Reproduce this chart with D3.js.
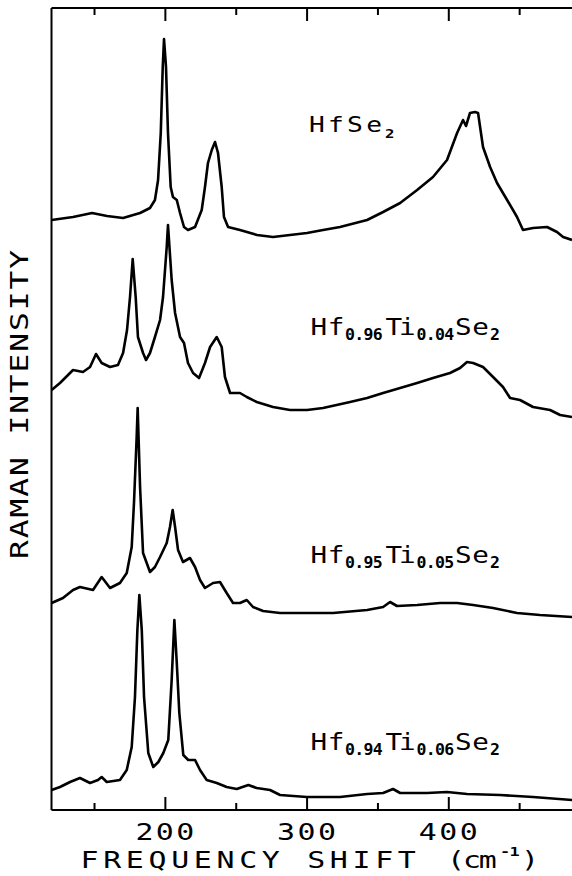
<!DOCTYPE html>
<html>
<head>
<meta charset="utf-8">
<script src="https://cdn.jsdelivr.net/npm/d3@7"></script>
<style>
  html, body { margin: 0; padding: 0; background: #fff; }
  svg { display: block; }
</style>
</head>
<body>
<script>
// ---------------- DATA ----------------
// Frequency shift in cm^-1 and Raman intensity (arb. units, curves stacked with offsets)
const freqHfSe2 = [120.1,135.2,148.6,159.2,170.5,182.5,189.5,193.0,195.2,197.1,198.5,199.4,200.8,202.2,204.1,205.7,208.4,210.7,213.5,216.3,221.3,226.0,228.3,230.4,233.1,235.4,237.5,240.1,241.7,244.6,253.0,265.0,276.3,288.3,300.3,311.6,323.6,342.7,354.0,366.0,378.0,389.2,399.1,406.2,410.4,412.5,415.3,418.8,421.0,424.5,429.5,434.4,441.5,448.5,452.7,459.8,469.7,476.7,481.0,487.3];
const intHfSe2  = [590,593,597,594,592,597,602,610,630,677,743,771,743,677,623,613,610,597,583,580,583,600,623,647,660,668,657,623,593,583,580,575,573,575,577,580,583,590,598,607,620,633,650,677,690,684,697,698,697,663,643,627,610,593,580,582,583,578,573,570];

const freqTi04 = [120.1,126.0,135.2,142.2,147.2,151.4,155.4,161.3,166.9,170.5,173.3,175.4,177.3,179.4,181.0,184.6,186.7,189.5,193.0,196.6,198.7,201.3,202.2,204.8,207.2,210.7,213.5,216.3,219.9,224.1,228.3,231.9,236.6,240.1,242.4,246.0,253.0,257.8,264.8,276.3,288.3,300.3,311.6,330.7,342.7,354.0,366.0,378.0,389.2,401.2,408.3,413.2,417.5,424.5,431.6,438.6,443.6,450.6,459.8,471.8,478.9,487.3];
const intTi04  = [420,427,440,438,443,456,447,443,445,457,480,513,551,513,473,457,450,457,473,490,513,563,585,530,497,473,467,447,437,432,447,463,473,463,433,417,417,413,408,403,400,400,402,408,412,417,422,427,432,437,442,448,447,443,433,423,412,410,403,400,395,393];

const freqTi05 = [120.1,128.1,135.2,140.1,149.3,155.4,161.3,168.3,173.1,176.6,178.2,180.1,180.8,182.5,184.6,189.5,193.0,196.6,201.3,203.6,205.5,207.2,209.3,212.8,217.7,221.3,224.8,228.3,234.0,238.9,243.6,248.1,253.0,257.8,262.2,269.3,281.3,300.3,311.6,318.7,342.7,354.0,358.9,363.8,378.0,394.2,406.2,417.5,431.6,448.5,464.7,487.3];
const intTi05  = [207,212,220,223,220,233,222,227,237,263,307,373,402,323,257,238,243,253,267,283,300,283,260,248,252,243,230,222,227,228,217,207,207,210,203,199,197,197,197,197,200,203,208,204,205,207,207,205,202,197,195,193];

const freqTi06 = [120.1,126.0,133.1,140.1,147.2,152.8,155.4,159.0,168.3,173.1,176.6,178.9,180.6,182.0,183.7,185.3,188.3,191.8,195.4,198.9,202.4,204.8,206.7,208.4,210.2,213.0,216.5,221.3,224.8,229.5,236.6,243.6,250.7,258.9,264.8,274.2,281.3,300.1,323.6,342.7,354.0,361.0,366.0,385.0,399.1,413.2,436.5,459.8,487.3];
const intTi06  = [20,23,28,32,27,30,33,28,30,40,63,113,180,215,180,113,57,43,48,57,70,130,190,147,97,55,50,50,40,30,27,23,21,25,22,20,15,13,13,16,17,21,17,17,18,16,15,13,10];

const majorTicks = [200, 300, 400];
const minorTicks = [150, 250, 350, 450];
const xTitle = "FREQUENCY SHIFT";
const xUnit = ["(cm", "-1", ")"];
const yTitle = "RAMAN INTENSITY";

// ---------------- LAYOUT ----------------
const W = 572, H = 876;
const mLeft = 51.5, mRight = 572, mTop = 8, mBottom = 810;
const FONT = "DejaVu Sans Mono";

const svg = d3.select("body").append("svg").attr("width", W).attr("height", H);

const x = d3.scaleLinear().domain([120, 400]).range([mLeft, 448.3]);
const y = d3.scaleLinear().domain([0, 802]).range([mBottom, mTop]);

// frame
svg.append("line").attr("x1", mLeft).attr("x2", mLeft).attr("y1", mTop).attr("y2", mBottom)
  .attr("stroke", "#000").attr("stroke-width", 2);
svg.append("line").attr("x1", mLeft).attr("x2", mRight).attr("y1", mTop).attr("y2", mTop)
  .attr("stroke", "#000").attr("stroke-width", 2);
svg.append("line").attr("x1", mLeft).attr("x2", mRight).attr("y1", mBottom).attr("y2", mBottom)
  .attr("stroke", "#000").attr("stroke-width", 2.2);

function tickAxis(axisGen, yPos, vals, size) {
  const g = svg.append("g").attr("transform", `translate(0,${yPos})`)
    .call(axisGen(x).tickValues(vals).tickSizeInner(size).tickSizeOuter(0).tickFormat(""));
  g.select(".domain").remove();
  g.selectAll(".tick line").attr("stroke", "#000").attr("stroke-width", 2);
  return g;
}
tickAxis(d3.axisBottom, mBottom, majorTicks, -13);
tickAxis(d3.axisBottom, mBottom, minorTicks, -7);
tickAxis(d3.axisTop, mTop, majorTicks, -13);
tickAxis(d3.axisTop, mTop, minorTicks, -7);

// stretched monospace text helper
function stext(str, tx, ty, size, sx, ls, opts = {}) {
  return svg.append("text")
    .attr("transform", `translate(${tx},${ty}) ${opts.rot ? "rotate(" + opts.rot + ")" : ""} scale(${sx},1)`)
    .attr("font-family", FONT)
    .attr("font-size", size)
    .attr("letter-spacing", ls)
    .attr("fill", "#000")
    .attr("text-anchor", opts.anchor || "start")
    .attr("font-weight", opts.bold ? "bold" : "normal")
    .text(str);
}

// tick labels
majorTicks.forEach(v => {
  stext(String(v), x(v) + 1.2, 840, 23, 1.3, 1.9, { anchor: "middle" });
});

// x title
stext(xTitle, 80.5, 868, 23, 1.3, 3.6);
stext(xUnit[0], 447, 868, 23, 1.3, -1.6);
stext(xUnit[1], 500, 856, 13, 1.3, -0.5, { bold: true });
stext(xUnit[2], 521, 868, 23, 1.3, 0);

// y title
stext(yTitle, 28, 403.5, 24, 1.3, 1.5, { rot: -90, anchor: "middle" });

// spectra
const line = d3.line().x(d => x(d[0])).y(d => y(d[1])).curve(d3.curveLinear);
const series = [
  [freqHfSe2, intHfSe2],
  [freqTi04, intTi04],
  [freqTi05, intTi05],
  [freqTi06, intTi06]
];
series.forEach(([f, v]) => {
  svg.append("path")
    .datum(f.map((fi, i) => [fi, v[i]]))
    .attr("d", line)
    .attr("fill", "none")
    .attr("stroke", "#000")
    .attr("stroke-width", 2.6)
    .attr("stroke-linejoin", "round");
});

// labels
stext("HfSe", 309, 132, 21, 1.25, 2.6);
stext("2", 385, 138, 13, 1.2, 0, { bold: true });

function tiLabel(base, s1, s2) {
  stext("Hf", 310.5, base, 23, 1.2, 0.5);
  stext(s1, 345, base + 5, 15, 1.1, -0.6, { bold: true });
  stext("Ti", 385.5, base, 23, 1.2, -2.5);
  stext(s2, 416.5, base + 5, 15, 1.1, -0.6, { bold: true });
  stext("Se", 455, base, 23, 1.2, 0.5);
  stext("2", 490, base + 5, 15, 1.1, 0, { bold: true });
}
tiLabel(335, "0.96", "0.04");
tiLabel(563, "0.95", "0.05");
tiLabel(750, "0.94", "0.06");
</script>
</body>
</html>
